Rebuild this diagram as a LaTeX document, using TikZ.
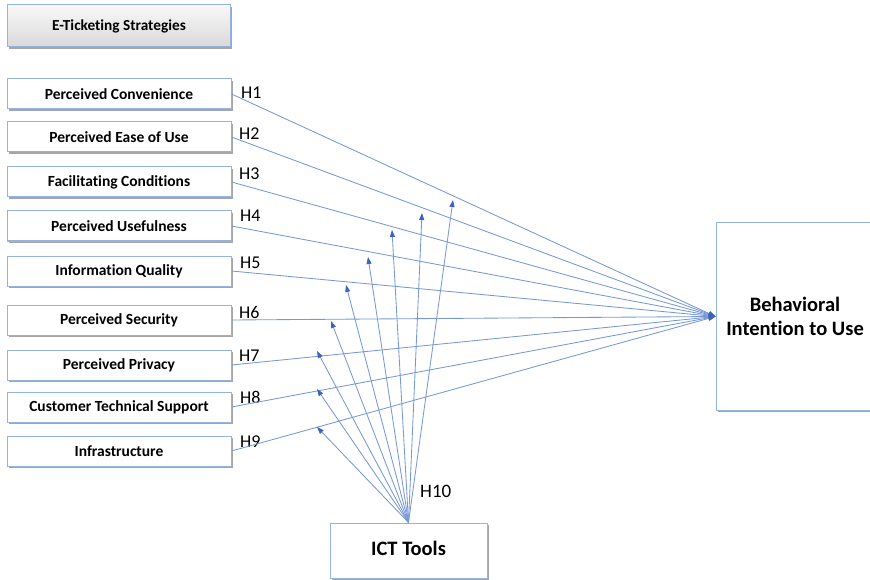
\documentclass[tikz,border=0pt]{standalone}
\usepackage{fontspec}
\setmainfont{Carlito}[Ligatures=NoCommon]
\usetikzlibrary{arrows.meta,shadows}
\definecolor{linec}{RGB}{120,152,212}
\definecolor{tipc}{RGB}{60,100,190}
\definecolor{boxc}{RGB}{150,178,222}
\tikzset{
  varbox/.style={draw=boxc, line width=1pt, fill=white, minimum width=224pt, minimum height=30pt,
    inner sep=0pt, font=\fontsize{15.5}{17}\selectfont\bfseries,
    drop shadow={shadow xshift=1.8pt, shadow yshift=-1.8pt, fill=gray!70, opacity=1}},
  headbox/.style={varbox, draw=boxc, top color=gray!5, bottom color=gray!30, minimum height=42pt, minimum width=223pt,
    font=\fontsize{15.3}{17}\selectfont\bfseries},
  bigbox/.style={draw=boxc, line width=1pt, fill=white, inner sep=0pt, align=center,
    font=\fontsize{20.5}{24}\selectfont\bfseries,
    drop shadow={shadow xshift=1.8pt, shadow yshift=-1.8pt, fill=gray!70, opacity=1}},
  hlab/.style={anchor=base west, inner sep=0pt, font=\fontsize{18}{20}\selectfont},
  hyp/.style={draw=linec, line width=0.85pt, -{Triangle[length=7pt,width=5pt,color=tipc]}},
}
\begin{document}
\begin{tikzpicture}[x=1pt,y=-1pt]
\useasboundingbox (0,0) rectangle (870,580);
\clip (0,0) rectangle (870,580);
\node[headbox] (head) at (119,26) {E-Ticketing Strategies};
\node[varbox] (v1) at (119,94) {Perceived Convenience};
\node[varbox] (v2) at (119,137) {Perceived Ease of Use};
\node[varbox] (v3) at (119,182) {Facilitating Conditions};
\node[varbox] (v4) at (119,226) {Perceived Usefulness};
\node[varbox] (v5) at (119,271) {Information Quality};
\node[varbox] (v6) at (119,320) {Perceived Security};
\node[varbox] (v7) at (119,365) {Perceived Privacy};
\node[varbox] (v8) at (119,407) {Customer Technical Support};
\node[varbox] (v9) at (119,451) {Infrastructure};
\node[bigbox, minimum width=158pt, minimum height=187pt] (bi) at (795,316.5) {Behavioral\\Intention to Use};
\node[bigbox, minimum width=157pt, minimum height=55pt] (ict) at (408.5,550.5) {\raisebox{4pt}{ICT Tools}};
\node[hlab] (h1) at (241,99) {H1};
\node[hlab] (h2) at (239,140) {H2};
\node[hlab] (h3) at (239,180) {H3};
\node[hlab] (h4) at (240,222) {H4};
\node[hlab] (h5) at (240,269) {H5};
\node[hlab] (h6) at (239,318) {H6};
\node[hlab] (h7) at (239,361) {H7};
\node[hlab] (h8) at (240,403) {H8};
\node[hlab] (h9) at (240,447) {H9};
\node[hlab, font=\fontsize{19}{21}\selectfont] (h10) at (420,497) {H10};
\foreach \i in {1,...,9} { \draw[hyp] (v\i.east) -- (bi.west); }
\coordinate (a1) at (453,200);
\coordinate (a2) at (422,213);
\coordinate (a3) at (392,230);
\coordinate (a4) at (368,257);
\coordinate (a5) at (346,285);
\coordinate (a6) at (331,321);
\coordinate (a7) at (317,351);
\coordinate (a8) at (317,389);
\coordinate (a9) at (317,427);
\foreach \i in {1,...,9} { \draw[hyp] (ict.north) -- (a\i); }
\end{tikzpicture}
\end{document}
